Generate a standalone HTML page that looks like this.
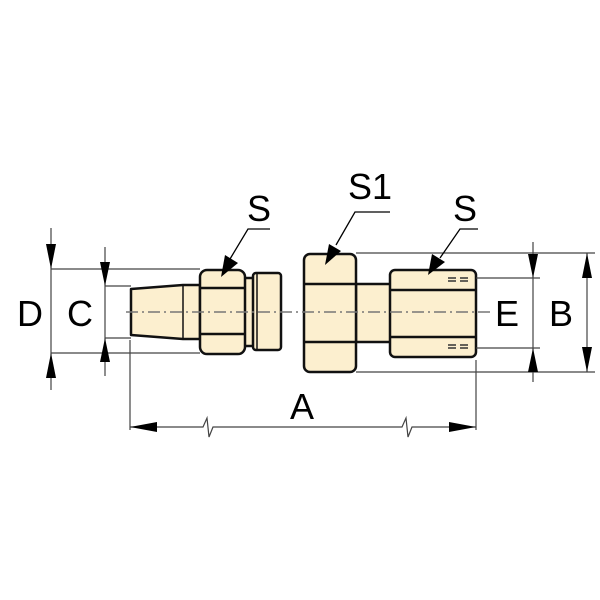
<!DOCTYPE html><html><head><style>body{margin:0;background:#fff}svg{display:block}text{font-family:"Liberation Sans",sans-serif;fill:#000}</style></head><body>
<svg width="600" height="600" viewBox="0 0 600 600">
<g fill="#fcefcf" stroke="#111" stroke-width="2.5" stroke-linejoin="round">
<path d="M131,289 L183,285 L200,285 L200,339 L183,339 L131,335Z"/>
<line x1="183" y1="285" x2="183" y2="339" stroke-width="1.5"/>
<rect x="243" y="278" width="12" height="68"/>
<rect x="253" y="273" width="28" height="77" rx="3"/>
<line x1="257" y1="274" x2="257" y2="349" stroke-width="1.5"/>
<rect x="200" y="270" width="45" height="84" rx="7"/>
<line x1="200" y1="288" x2="245" y2="288"/><line x1="200" y1="334" x2="245" y2="334"/>
<rect x="356" y="284" width="36" height="58"/>
<rect x="304" y="254" width="52" height="118" rx="6"/>
<line x1="304" y1="284" x2="356" y2="284"/><line x1="304" y1="342" x2="356" y2="342"/>
<rect x="390" y="270" width="86" height="87" rx="5"/>
<line x1="390" y1="290" x2="476" y2="290"/><line x1="390" y1="337" x2="476" y2="337"/>
</g>
<g stroke="#333" stroke-width="1.5">
<line x1="448" y1="278" x2="456" y2="278"/><line x1="460" y1="278" x2="468" y2="278"/>
<line x1="448" y1="281" x2="456" y2="281"/><line x1="460" y1="281" x2="468" y2="281"/>
<line x1="448" y1="345" x2="456" y2="345"/><line x1="460" y1="345" x2="468" y2="345"/>
<line x1="448" y1="348" x2="456" y2="348"/><line x1="460" y1="348" x2="468" y2="348"/>
</g>
<line x1="126" y1="312" x2="492" y2="312" stroke="#777" stroke-width="1.5" stroke-dasharray="12,4,2,4"/>
<g stroke="#444" stroke-width="1.2" fill="none">
<line x1="51" y1="269" x2="200" y2="269"/><line x1="51" y1="353" x2="200" y2="353"/>
<line x1="105" y1="286" x2="131" y2="286"/><line x1="105" y1="338" x2="131" y2="338"/>
<line x1="356" y1="253" x2="595" y2="253"/><line x1="356" y1="372" x2="595" y2="372"/>
<line x1="476" y1="278" x2="540" y2="278"/><line x1="476" y1="348" x2="540" y2="348"/>
<line x1="130" y1="340" x2="130" y2="430"/><line x1="476" y1="360" x2="476" y2="430"/>
<line x1="51" y1="228" x2="51" y2="390"/><line x1="105" y1="247" x2="105" y2="376"/>
<line x1="533" y1="242" x2="533" y2="382"/><line x1="587" y1="253" x2="587" y2="372"/>
<path d="M130,427 H203 L207,418 L209,437 L213,427 H402 L406,418 L408,437 L412,427 H476"/>
</g>
<g fill="#000">
<path d="M46,244 L56,244 L51,269Z"/><path d="M46,378 L56,378 L51,353Z"/>
<path d="M100,262 L110,262 L105,286Z"/><path d="M100,362 L110,362 L105,338Z"/>
<path d="M528,254 L538,254 L533,278Z"/><path d="M528,372 L538,372 L533,348Z"/>
<path d="M582,278 L592,278 L587,253Z"/><path d="M582,347 L592,347 L587,372Z"/>
<path d="M130,427 L157,422 L157,432Z"/><path d="M476,427 L449,422 L449,432Z"/>
</g>
<g stroke="#000" stroke-width="1.3" fill="none">
<path d="M270,229 H248 L230,259"/>
<path d="M390,212 H355 L336,245"/>
<path d="M478,229 H460 L440,258"/>
</g>
<path d="M221,277 L225,255 L238,263Z" fill="#000"/>
<path d="M325,265 L329,244 L341,251Z" fill="#000"/>
<path d="M428,275 L432,254 L445,262Z" fill="#000"/>
<g font-size="36">
<text x="17" y="326">D</text><text x="67" y="326">C</text>
<text x="247" y="221">S</text><text x="348" y="199">S1</text><text x="453" y="221">S</text>
<text x="495" y="326">E</text><text x="549" y="326">B</text>
<text x="290" y="419">A</text>
</g>
</svg></body></html>
